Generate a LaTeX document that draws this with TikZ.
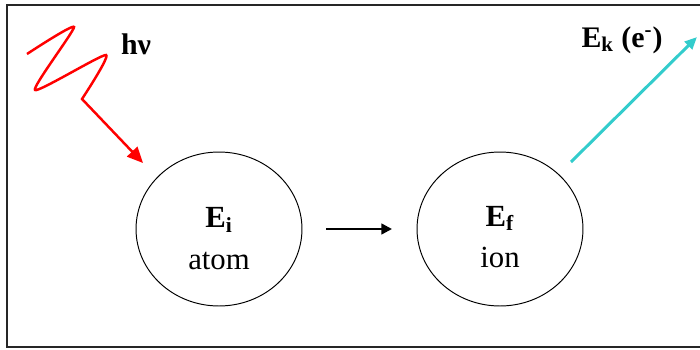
\documentclass[tikz,border=0pt]{standalone}
\usepackage{fontspec}
\setmainfont{Liberation Serif}
\usetikzlibrary{shapes.geometric, arrows.meta}
\definecolor{photonred}{RGB}{255,0,0}
\definecolor{electroncyan}{RGB}{51,204,204}
\newcommand\Estate[1]{\textbf{E\textsubscript{#1}}}

\begin{document}
\begin{tikzpicture}[x=0.02cm, y=-0.02cm, line width=0.8pt,
    state/.style={draw, ellipse, line width=0.55pt, inner sep=0pt,
                  minimum width=3.32cm, minimum height=3.08cm},
    statetext/.style={align=center, font=\fontsize{17.5}{23.5}\selectfont},
    lbl/.style={font=\bfseries\fontsize{17}{20}\selectfont}]
  \useasboundingbox (0,0) rectangle (700,349);
  % frame, open on the right
  \draw[line width=1.1pt, black!85] (700,5) -- (7,5) -- (7,347) -- (700,347);
  % atom and ion
  \node[state] (atom) at (219,229) {};
  \node[state] (ion) at (500,229) {};
  \node[statetext] (atomtext) at ([yshift=-5.5pt]atom.center) {\Estate{i}\\atom};
  \node[statetext] (iontext) at ([yshift=-4.5pt]ion.center) {\Estate{f}\\ion};
  \coordinate (a1) at (326,229);
  \coordinate (a2) at (392,229);
  \draw[line width=1.4pt, -{Triangle[length=6pt, width=6pt]}] (a1) -- (a2);
  % photon
  \coordinate (wave) at (27,54);
  \coordinate (hvtip) at (143,163);
  \draw[photonred, line width=1.4pt, -{Triangle[length=9pt, width=8pt]}]
    plot[smooth, tension=0.35] coordinates {(wave) (74,27) (35,90) (106,55) (82,99)}
    -- (hvtip);
  \node[lbl] (hv) at (136,44) {hν};
  % photoelectron
  \coordinate (eout) at (571,162);
  \coordinate (etip) at (697,37);
  \draw[electroncyan, line width=1.7pt, -{Triangle[length=7pt, width=6pt]}]
    (eout) -- (etip);
  \node[lbl] (Ek) at (622,40) {E\textsubscript{k} (e\textsuperscript{-})};
\end{tikzpicture}
\end{document}
